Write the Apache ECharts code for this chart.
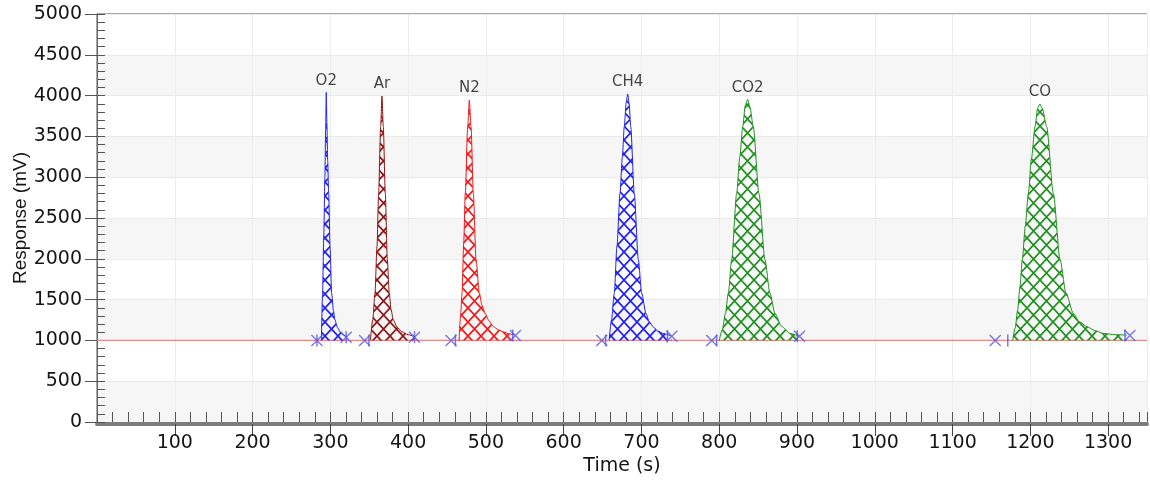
<!DOCTYPE html>
<html><head><meta charset="utf-8">
<script src="https://cdn.jsdelivr.net/npm/echarts@6/dist/echarts.min.js"></script>
<style>html,body{margin:0;padding:0;background:#fff}#c{width:1150px;height:483px}</style>
</head><body><div id="c"></div>
<script>
// ---- data ----
const peakNames = ['O2', 'Ar', 'N2', 'CH4', 'CO2', 'CO'];

const o2Time  = [288.5, 290, 291.5, 293, 294, 294.8, 295.6, 296.6, 297.9, 299.6, 301.7, 304, 306, 309, 312.5, 316, 320.5];
const o2Value = [1000, 1560, 2250, 3000, 3600, 4040, 3650, 3200, 2800, 2150, 1580, 1360, 1250, 1160, 1105, 1070, 1045];

const arTime  = [351.5, 354.5, 357.4, 360, 362.1, 364.7, 366.4, 368.1, 370.7, 373.3, 375.8, 378, 381, 386, 392, 400, 408.5];
const arValue = [1000, 1250, 1580, 2150, 2800, 3620, 3995, 3620, 2800, 1990, 1580, 1380, 1250, 1160, 1105, 1070, 1045];

const n2Time  = [465.5, 467.5, 469.3, 471.5, 473.5, 476.6, 478.7, 480.9, 483.9, 487.3, 491.6, 495, 499, 504, 509.5, 516, 522.5, 530, 537.5];
const n2Value = [1000, 1300, 1580, 2200, 2800, 3620, 3946, 3620, 2800, 1990, 1580, 1430, 1330, 1240, 1170, 1130, 1105, 1080, 1065];

const ch4Time  = [658.5, 661.5, 665.1, 668.5, 672.4, 675.5, 677.9, 680.5, 682.3, 684.2, 686.2, 690.8, 696, 700.3, 705.8, 710, 715.2, 721, 728, 739];
const ch4Value = [1000, 1250, 1580, 2150, 2800, 3250, 3620, 3920, 4020, 3900, 3620, 2800, 1990, 1580, 1330, 1230, 1165, 1115, 1085, 1050];

const co2Time  = [800, 804, 808, 811.7, 816, 822.4, 826.5, 830.2, 833.5, 836.6, 839.5, 843.8, 851.1, 858.8, 865.2, 871.7, 880.3, 891, 903.5];
const co2Value = [1000, 1130, 1330, 1580, 1990, 2800, 3250, 3620, 3880, 3955, 3860, 3620, 2800, 1990, 1580, 1330, 1170, 1085, 1050];

const coTime  = [1177.3, 1180.5, 1183.7, 1186.5, 1189.7, 1193.5, 1197.4, 1201.5, 1206, 1209.5, 1212.4, 1215.5, 1221, 1229.6, 1238.2, 1245.9, 1255.3, 1263, 1272.5, 1283, 1294, 1309, 1324];
const coValue = [1000, 1150, 1370, 1650, 1990, 2400, 2800, 3230, 3620, 3850, 3897, 3840, 3620, 2800, 1990, 1580, 1330, 1230, 1170, 1120, 1085, 1070, 1065];

const baselineTime  = [0, 1350];
const baselineValue = [1000, 1000];

const markerXTime  = [282.8, 320.4, 344, 408.2, 455.2, 538, 649, 739, 790.3, 903.2, 1154.9, 1328];
const markerXValue = [1000, 1040, 1000, 1040, 1000, 1060, 1000, 1050, 1000, 1050, 1000, 1060];
const markerBarTime  = [282.8, 320.4, 349.6, 408.2, 460.8, 534.5, 654, 733.5, 796.7, 900.3, 1171, 1321.7];
const markerBarValue = [1000, 1040, 1000, 1040, 1000, 1060, 1000, 1050, 1000, 1050, 1000, 1060];

// ---- helpers ----
function zip(a, b) { return a.map((t, i) => [t, b[i]]); }
function hatch(color) {
  const c = document.createElement('canvas');
  const w = 13, h = 14;
  c.width = w; c.height = h;
  const g = c.getContext('2d');
  g.strokeStyle = color; g.lineWidth = 1.7;
  g.beginPath();
  g.moveTo(0, 0); g.lineTo(w, h);
  g.moveTo(w, 0); g.lineTo(0, h);
  g.stroke();
  return c;
}

const peaks = [
  { name: peakNames[0], t: o2Time,  v: o2Value,  color: '#2020ee' },
  { name: peakNames[1], t: arTime,  v: arValue,  color: '#8b1414' },
  { name: peakNames[2], t: n2Time,  v: n2Value,  color: '#f01818' },
  { name: peakNames[3], t: ch4Time, v: ch4Value, color: '#2020ee' },
  { name: peakNames[4], t: co2Time, v: co2Value, color: '#1f8f1f' },
  { name: peakNames[5], t: coTime,  v: coValue,  color: '#1f8f1f' }
];

const txt = '#151515';
const markerColor = '#5656e0';
const plain = v => String(v);

const series = [];
series.push({
  type: 'line', data: zip(baselineTime, baselineValue), symbol: 'none', silent: true,
  lineStyle: { color: '#e08a8a', width: 1.3 }, z: 2
});
peaks.forEach(p => {
  series.push({
    type: 'line', name: p.name, data: zip(p.t, p.v), smooth: 0.25, smoothMonotone: 'x',
    symbol: 'none', silent: true, z: 3,
    lineStyle: { color: p.color, width: 1 },
    areaStyle: { origin: 1000, opacity: 1, color: { image: hatch(p.color), repeat: 'repeat' } }
  });
});
series.push({
  type: 'scatter', silent: true, z: 5, symbolSize: 0,
  data: peaks.map(p => { const i = p.v.indexOf(Math.max(...p.v)); return { name: p.name, value: [p.t[i], p.v[i]] }; }),
  label: { show: true, position: 'top', distance: 4, formatter: '{b}', fontFamily: 'DejaVu Sans', fontSize: 15, color: txt }
});
series.push({
  type: 'scatter', silent: true, z: 6, symbol: 'path://M0,0L10,10M10,0L0,10', symbolSize: 11,
  itemStyle: { color: markerColor, borderColor: markerColor, borderWidth: 1.4 },
  data: zip(markerXTime, markerXValue)
});
series.push({
  type: 'scatter', silent: true, z: 6, symbol: 'rect', symbolSize: [1.5, 12],
  itemStyle: { color: markerColor },
  data: zip(markerBarTime, markerBarValue)
});

const chart = echarts.init(document.getElementById('c'), null, { renderer: 'canvas' });
chart.setOption({
  animation: false,
  backgroundColor: '#ffffff',
  grid: { left: 97, right: 3, top: 14, bottom: 61, show: true, borderColor: '#555', borderWidth: 1, backgroundColor: 'transparent', containLabel: false, outerBoundsMode: 'none' },
  xAxis: [
    {
      type: 'value', min: 0, max: 1350, interval: 100, position: 'bottom', offset: 2,
      axisLine: { show: true, onZero: false, lineStyle: { color: '#7d7d7d', width: 4 } },
      axisTick: { show: true, length: 12, lineStyle: { color: '#444' } },
      axisLabel: { fontFamily: 'DejaVu Sans', fontSize: 19, color: txt, margin: 10, showMinLabel: false, showMaxLabel: false, formatter: plain },
      splitLine: { show: true, lineStyle: { color: '#ececec' } },
      name: 'Time (s)', nameLocation: 'middle', nameGap: 33, nameMoveOverlap: false,
      nameTextStyle: { fontFamily: 'DejaVu Sans', fontSize: 19, color: txt }
    },
    {
      type: 'value', min: 0, max: 1350, interval: 20, position: 'bottom', offset: 0,
      axisLine: { show: false }, axisTick: { show: true, inside: true, length: 10, lineStyle: { color: '#555' } },
      axisLabel: { show: false }, splitLine: { show: false }
    }
  ],
  yAxis: [
    {
      type: 'value', min: 0, max: 5000, interval: 500, position: 'left',
      axisLine: { show: true, onZero: false, lineStyle: { color: '#666' } },
      axisTick: { show: true, length: 12, lineStyle: { color: '#555' } },
      axisLabel: { fontFamily: 'DejaVu Sans', fontSize: 19, color: txt, margin: 15, formatter: plain },
      splitLine: { show: true, lineStyle: { color: '#eaeaea' } },
      splitArea: { show: true, areaStyle: { color: ['#f6f6f6', '#ffffff'] } },
      name: 'Response (mV)', nameLocation: 'middle', nameGap: 67, nameMoveOverlap: false,
      nameTextStyle: { fontFamily: 'Liberation Sans', fontSize: 19, color: txt }
    },
    {
      type: 'value', min: 0, max: 5000, interval: 100, position: 'left', offset: 0,
      axisLine: { show: false }, axisTick: { show: true, inside: true, length: 8, lineStyle: { color: '#555' } },
      axisLabel: { show: false }, splitLine: { show: false }
    }
  ],
  series: series
});
</script>
</body></html>
